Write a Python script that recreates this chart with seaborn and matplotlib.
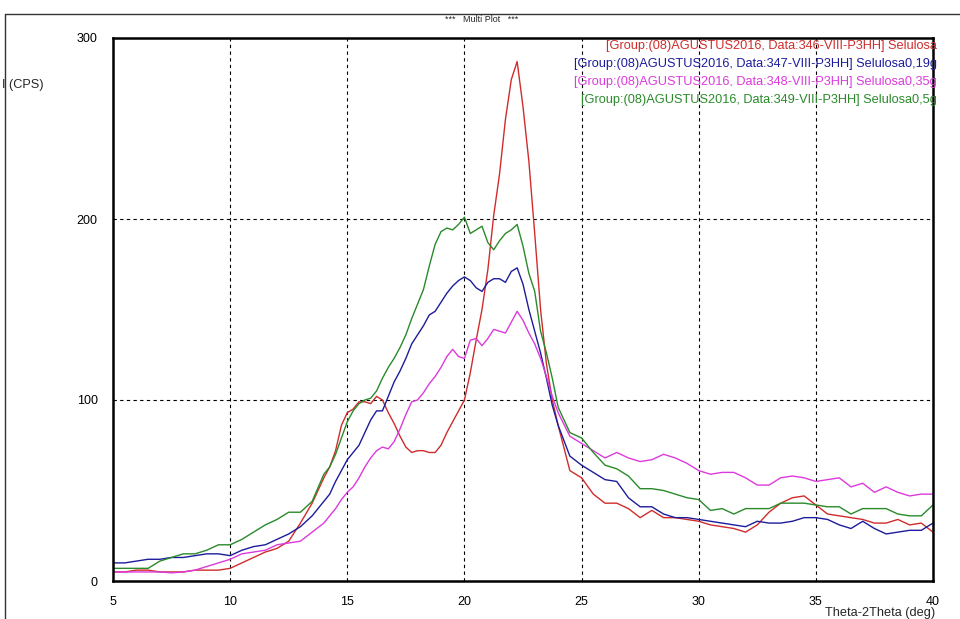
import numpy as np
import pandas as pd
import matplotlib
matplotlib.use('Agg')
import matplotlib.pyplot as plt
from matplotlib import font_manager
from matplotlib.ticker import MultipleLocator
import seaborn as sns

# 2-theta grid: coarse on the tails, finer around the cellulose peaks
THETA = np.r_[np.arange(5.0, 14.01, 0.5),
              np.arange(14.25, 24.01, 0.25),
              np.arange(24.5, 40.01, 0.5)]

LABELS = [
    '[Group:(08)AGUSTUS2016, Data:346-VIII-P3HH] Selulosa',
    '[Group:(08)AGUSTUS2016, Data:347-VIII-P3HH] Selulosa0,19g',
    '[Group:(08)AGUSTUS2016, Data:348-VIII-P3HH] Selulosa0,35g',
    '[Group:(08)AGUSTUS2016, Data:349-VIII-P3HH] Selulosa0,5g',
]
COLORS = ['#d02c2c', '#1c1c9c', '#dc3adc', '#2a8a2a']

CPS_346 = [5, 5, 6, 6, 5, 5, 5, 6, 6, 6, 7, 10, 13, 16, 18, 22, 32, 43, 57,
           63, 72, 86, 93, 95, 99, 99, 98, 102, 100,
           93, 87, 80, 74, 71, 72, 72, 71, 71, 75,
           82, 88, 94, 100, 115, 133, 150, 172, 202, 225,
           255, 277, 287, 262, 232, 192, 150, 120, 100, 86,
           61, 57, 48, 43, 43, 40, 35, 39, 35, 35,
           34, 33, 31, 30, 29, 27, 31, 38, 43, 46,
           47, 42, 37, 36, 35, 34, 32, 32, 34, 31, 32, 27]
CPS_347 = [10, 10, 11, 12, 12, 13, 13, 14, 15, 15, 14, 17, 19, 20, 23, 26, 30, 36, 44,
           48, 55, 61, 67, 71, 75, 82, 89, 94, 94,
           102, 110, 116, 123, 131, 136, 141, 147, 149, 154,
           159, 163, 166, 168, 166, 162, 160, 165, 167, 167,
           165, 171, 173, 164, 150, 138, 126, 112, 97, 86,
           69, 64, 60, 56, 55, 46, 41, 41, 37, 35,
           35, 34, 33, 32, 31, 30, 33, 32, 32, 33,
           35, 35, 34, 31, 29, 33, 29, 26, 27, 28, 28, 32]
CPS_348 = [5, 5, 5, 5, 5, 4.5, 5, 6, 8, 10, 12, 15, 16, 17, 20, 21, 22, 27, 32,
           36, 40, 45, 49, 52, 57, 63, 68, 72, 74,
           73, 77, 84, 92, 99, 100, 104, 109, 113, 118,
           124, 128, 124, 123, 133, 134, 130, 134, 139, 138,
           137, 143, 149, 144, 137, 131, 123, 113, 102, 93,
           80, 76, 72, 68, 71, 68, 66, 67, 70, 68,
           65, 61, 59, 60, 60, 57, 53, 53, 57, 58,
           57, 55, 56, 57, 52, 54, 49, 52, 49, 47, 48, 48]
CPS_349 = [7, 7, 7, 7, 11, 13, 15, 15, 17, 20, 20, 23, 27, 31, 34, 38, 38, 44, 59,
           63, 70, 79, 88, 94, 98, 100, 101, 105, 112,
           118, 123, 129, 136, 145, 153, 161, 174, 186, 193,
           195, 194, 197, 201, 192, 194, 196, 187, 183, 188,
           192, 194, 197, 185, 170, 160, 138, 126, 112, 96,
           82, 79, 71, 64, 62, 58, 51, 51, 50, 48,
           46, 45, 39, 40, 37, 40, 40, 40, 43, 43,
           43, 42, 41, 41, 37, 40, 40, 40, 37, 36, 36, 42]

sns.set_style('white')
names = {f.name for f in font_manager.fontManager.ttflist}
narrow = 'Liberation Sans Narrow' if 'Liberation Sans Narrow' in names else 'Liberation Sans'
plt.rcParams['font.family'] = [narrow, 'DejaVu Sans']

frames = []
for lab, vals in zip(LABELS, [CPS_346, CPS_347, CPS_348, CPS_349]):
    frames.append(pd.DataFrame({'theta': THETA, 'cps': vals, 'sample': lab}))
df = pd.concat(frames, ignore_index=True)

W, H = 960, 619
fig = plt.figure(figsize=(W / 100, H / 100), dpi=100)
ax = fig.add_axes([113 / W, 1 - 581 / H, 820 / W, 543 / H])

sns.lineplot(data=df, x='theta', y='cps', hue='sample', hue_order=LABELS,
             palette=dict(zip(LABELS, COLORS)), estimator=None, sort=False,
             linewidth=1.0, legend=False, ax=ax)

ax.set_xlim(5, 40)
ax.set_ylim(0, 300)
ax.xaxis.set_major_locator(MultipleLocator(5))
ax.xaxis.set_minor_locator(MultipleLocator(1))
ax.yaxis.set_major_locator(MultipleLocator(100))
ax.yaxis.set_minor_locator(MultipleLocator(10))
ax.tick_params(which='major', direction='out', length=8, width=1,
               labelsize=9, colors='black', pad=3)
ax.tick_params(which='minor', direction='out', length=4, width=1)
ax.set_xlabel('')
ax.set_ylabel('')

for v in [10, 15, 20, 25, 30, 35]:
    ax.axvline(v, color='black', linestyle=(0, (3, 3)), linewidth=0.8, zorder=0)
for v in [100, 200]:
    ax.axhline(v, color='black', linestyle=(0, (3, 3)), linewidth=0.8, zorder=0)

for side in ['left', 'right', 'top', 'bottom']:
    ax.spines[side].set_visible(True)
    ax.spines[side].set_color('black')
    ax.spines[side].set_linewidth(1.8)

# legend drawn as coloured text lines, as in the instrument software
for k, (lab, col) in enumerate(zip(LABELS, COLORS)):
    fig.text(937 / W, 1 - (46 + 18 * k) / H, lab, color=col, fontsize=9.2,
             ha='right', va='center')

fig.text(482 / W, 1 - 20 / H, '***   Multi Plot   ***', fontsize=6.5,
         ha='center', va='center')
fig.text(0.002, 1 - 85 / H, 'I (CPS)', fontsize=9.2, ha='left', va='center')
fig.text(935 / W, 1 - 613 / H, 'Theta-2Theta (deg)', fontsize=9.2,
         ha='right', va='center')

# outer window frame
fig.add_artist(plt.Line2D([5 / W, 1], [1 - 14 / H] * 2,
                          transform=fig.transFigure, color='#333333', lw=1))
fig.add_artist(plt.Line2D([5 / W, 5 / W], [0, 1 - 14 / H],
                          transform=fig.transFigure, color='#333333', lw=1))

fig.savefig('out.png', dpi=100)
